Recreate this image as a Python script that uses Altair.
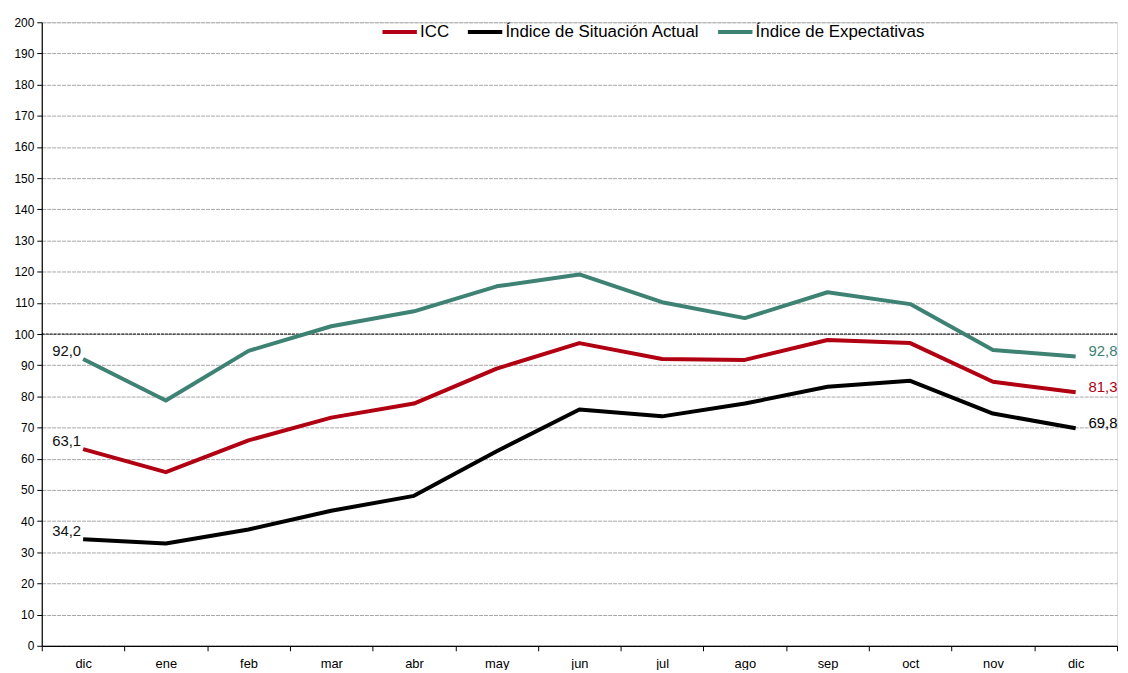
import altair as alt
import pandas as pd

months = ["dic", "ene", "feb", "mar", "abr", "may", "jun", "jul", "ago", "sep", "oct", "nov", "dic"]
icc = [63.1, 55.7, 65.9, 73.2, 77.7, 88.9, 97.1, 92.0, 91.7, 98.1, 97.1, 84.7, 81.3]
sit = [34.2, 32.8, 37.3, 43.3, 48.1, 62.4, 75.8, 73.6, 77.7, 83.1, 85.0, 74.5, 69.8]
exp_ = [92.0, 78.7, 94.6, 102.5, 107.3, 115.3, 119.1, 110.2, 105.1, 113.4, 109.6, 94.9, 92.8]
series_names = ["ICC", "Índice de Situación Actual", "Índice de Expectativas"]
series_colors = ["#B00012", "#000000", "#3E8274"]

rows = []
for name, vals in zip(series_names, [icc, sit, exp_]):
    for i, v in enumerate(vals):
        rows.append({"idx": i, "serie": name, "v": v})
df = pd.DataFrame(rows)

label_expr = "[" + ",".join(f"'{m}'" for m in months) + "][datum.value]"

x_enc = alt.X(
    "idx:O",
    scale=alt.Scale(paddingInner=0, paddingOuter=0),
    axis=alt.Axis(
        title=None, labelExpr=label_expr, labelAngle=0, tickBand="extent",
        grid=False, domainColor="#000000", tickColor="#000000", tickSize=5,
        labelFont="Liberation Sans", labelFontSize=13, labelColor="#000000",
        labelPadding=7, domainWidth=1.2,
    ),
)
y_scale = alt.Scale(domain=[0, 200], nice=False)
y_axis = alt.Axis(
    title=None, values=list(range(0, 201, 10)), grid=True, labelOverlap=False,
    gridColor="#a6a6a6", gridDash=[4, 1], gridWidth=1,
    domainColor="#000000", tickColor="#000000", tickSize=5,
    labelFont="Liberation Sans", labelFontSize=12, labelColor="#000000",
    labelPadding=3, domainWidth=1.2,
)
y_enc = alt.Y("v:Q", scale=y_scale, axis=y_axis)

color_enc = alt.Color(
    "serie:N",
    scale=alt.Scale(domain=series_names, range=series_colors),
    legend=alt.Legend(
        title=None, orient="none", direction="horizontal", legendX=341, legendY=-10,
        symbolType="stroke", symbolStrokeWidth=4, symbolSize=1200,
        labelFont="Liberation Sans", labelFontSize=17, labelColor="#000000",
        labelLimit=400, columnPadding=10, symbolOffset=0, labelOffset=1,
    ),
)

base = alt.Chart(df)

ref = alt.Chart(pd.DataFrame({"v": [100]})).mark_rule(
    color="#000000", strokeDash=[3, 1], strokeWidth=1
).encode(y=y_enc)

lines = base.mark_line(strokeWidth=4, strokeJoin="round").encode(
    x=x_enc, y=y_enc, color=color_enc, order="idx:O"
)

start_labels = base.transform_filter("datum.idx == 0").transform_calculate(
    lab="replace(format(datum.v, '.1f'), '.', ',')"
).mark_text(align="right", baseline="middle", dx=-2, dy=-8,
            font="Liberation Sans", fontSize=15, color="#111111").encode(
    x=x_enc, y=y_enc, text="lab:N"
)

end_labels = base.transform_filter("datum.idx == 12").transform_calculate(
    lab="replace(format(datum.v, '.1f'), '.', ',')"
).mark_text(align="left", baseline="middle", dx=13, dy=-5,
            font="Liberation Sans", fontSize=15).encode(
    x=x_enc, y=y_enc, text="lab:N",
    color=alt.Color("serie:N", scale=alt.Scale(domain=series_names, range=series_colors), legend=None),
)

chart = alt.layer(ref, lines, start_labels, end_labels).properties(
    width=1083, height=628,
    padding={"left": 34, "top": 12, "right": 3, "bottom": 22},
    autosize=alt.AutoSizeParams(type="none"),
).configure_view(stroke=None).configure(background="#ffffff")

chart.save("out.html", embed_options={"renderer": "svg", "actions": False})
